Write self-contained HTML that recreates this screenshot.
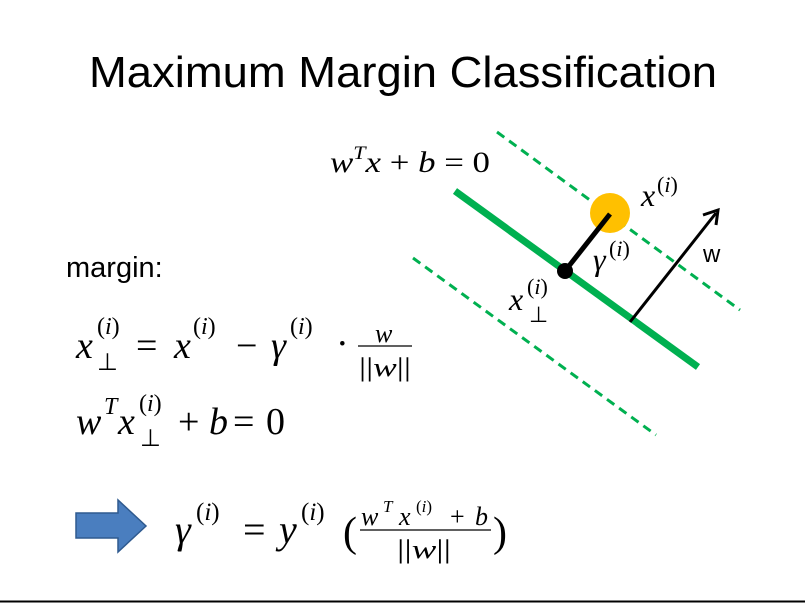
<!DOCTYPE html>
<html><head><meta charset="utf-8"><style>
html,body{margin:0;padding:0;background:#fff}
svg{display:block}
.m{font-family:"Liberation Serif",serif;font-style:italic;fill:#000}
.r{font-family:"Liberation Serif",serif;fill:#000}
.s{font-family:"Liberation Sans",sans-serif;fill:#000}
</style></head><body>
<svg width="805" height="604" viewBox="0 0 805 604">
<rect width="805" height="604" fill="#fff"/>
<text class="s" x="89" y="87" font-size="44" textLength="628" lengthAdjust="spacingAndGlyphs">Maximum Margin Classification</text>
<line x1="0" y1="601.5" x2="805" y2="601.5" stroke="#000" stroke-width="2"/>

<g>
<line x1="497" y1="132" x2="740" y2="310" stroke="#00b050" stroke-width="3" stroke-dasharray="9,6"/>
<line x1="413" y1="258" x2="656" y2="435" stroke="#00b050" stroke-width="3" stroke-dasharray="9,6"/>
<line x1="455" y1="191" x2="698" y2="367" stroke="#00b050" stroke-width="7"/>
<circle cx="610" cy="213" r="20" fill="#ffc000"/>
<line x1="610" y1="214" x2="565" y2="271" stroke="#000" stroke-width="5"/>
<circle cx="565" cy="271" r="8" fill="#000"/>
<line x1="630" y1="322" x2="716" y2="213" stroke="#000" stroke-width="3"/>
<polyline points="703,215 718,210 716,225" fill="none" stroke="#000" stroke-width="3"/>
<text class="s" x="703" y="262" font-size="24">w</text>
<text class="m" x="330" y="172" font-size="30" textLength="160" lengthAdjust="spacingAndGlyphs">w<tspan font-size="19" dy="-13">T</tspan><tspan dy="13">x </tspan><tspan font-style="normal">+</tspan> b <tspan font-style="normal">= 0</tspan></text>
<text class="m" x="641" y="206" font-size="32">x</text>
<text class="m" x="657" y="192" font-size="22"><tspan font-style="normal">(</tspan>i<tspan font-style="normal">)</tspan></text>
<text class="m" x="593" y="270" font-size="32">γ</text>
<text class="m" x="609" y="256" font-size="22"><tspan font-style="normal">(</tspan>i<tspan font-style="normal">)</tspan></text>
<text class="m" x="509" y="310" font-size="32">x</text>
<text class="m" x="527" y="294" font-size="22"><tspan font-style="normal">(</tspan>i<tspan font-style="normal">)</tspan></text>
<text class="r" x="529" y="322" font-size="22">⊥</text>
</g>

<text class="s" x="66" y="277" font-size="29">margin:</text>

<g>
<text class="m" x="76" y="358" font-size="38">x</text>
<text class="m" x="97" y="334" font-size="24"><tspan font-style="normal">(</tspan>i<tspan font-style="normal">)</tspan></text>
<text class="r" x="97" y="370" font-size="24">⊥</text>
<text class="r" x="136" y="358" font-size="38">=</text>
<text class="m" x="174" y="358" font-size="38">x</text>
<text class="m" x="193" y="334" font-size="24"><tspan font-style="normal">(</tspan>i<tspan font-style="normal">)</tspan></text>
<text class="r" x="236" y="358" font-size="38">−</text>
<text class="m" x="271" y="358" font-size="38">γ</text>
<text class="m" x="290" y="334" font-size="24"><tspan font-style="normal">(</tspan>i<tspan font-style="normal">)</tspan></text>
<text class="r" x="336" y="356" font-size="38">·</text>
<text class="m" x="375" y="342" font-size="26">w</text>
<line x1="358" y1="346" x2="412" y2="346" stroke="#000" stroke-width="1.3"/>
<text class="m" x="359" y="376" font-size="26" textLength="52" lengthAdjust="spacingAndGlyphs"><tspan font-style="normal">||</tspan>w<tspan font-style="normal">||</tspan></text>
</g>

<g>
<text class="m" x="76" y="434" font-size="38">w</text>
<text class="m" x="104" y="414" font-size="24">T</text>
<text class="m" x="118" y="434" font-size="38">x</text>
<text class="m" x="139" y="411" font-size="24"><tspan font-style="normal">(</tspan>i<tspan font-style="normal">)</tspan></text>
<text class="r" x="140" y="446" font-size="24">⊥</text>
<text class="r" x="178" y="434" font-size="38">+</text>
<text class="m" x="209" y="434" font-size="38">b</text>
<text class="r" x="233" y="434" font-size="38">=</text>
<text class="r" x="266" y="434" font-size="38">0</text>
</g>

<polygon points="76,513 118,513 118,500 146,526 118,552 118,538 76,538" fill="#4a7ebf" stroke="#2f5a8f" stroke-width="1.5"/>

<g>
<text class="m" x="175" y="543" font-size="40">γ</text>
<text class="m" x="196" y="520" font-size="25"><tspan font-style="normal">(</tspan>i<tspan font-style="normal">)</tspan></text>
<text class="r" x="243" y="543" font-size="40">=</text>
<text class="m" x="279" y="543" font-size="40">y</text>
<text class="m" x="301" y="520" font-size="25"><tspan font-style="normal">(</tspan>i<tspan font-style="normal">)</tspan></text>
<text class="r" x="343" y="546" font-size="42">(</text>
<text class="m" x="361" y="525" font-size="26">w</text>
<text class="m" x="383" y="512" font-size="17">T</text>
<text class="m" x="399" y="525" font-size="26">x</text>
<text class="m" x="416" y="512" font-size="17"><tspan font-style="normal">(</tspan>i<tspan font-style="normal">)</tspan></text>
<text class="r" x="450" y="525" font-size="26">+</text>
<text class="m" x="475" y="525" font-size="26">b</text>
<line x1="360" y1="530" x2="491" y2="530" stroke="#000" stroke-width="1.3"/>
<text class="m" x="397" y="558" font-size="26" textLength="54" lengthAdjust="spacingAndGlyphs"><tspan font-style="normal">||</tspan>w<tspan font-style="normal">||</tspan></text>
<text class="r" x="493" y="546" font-size="42">)</text>
</g>
</svg>
</body></html>
